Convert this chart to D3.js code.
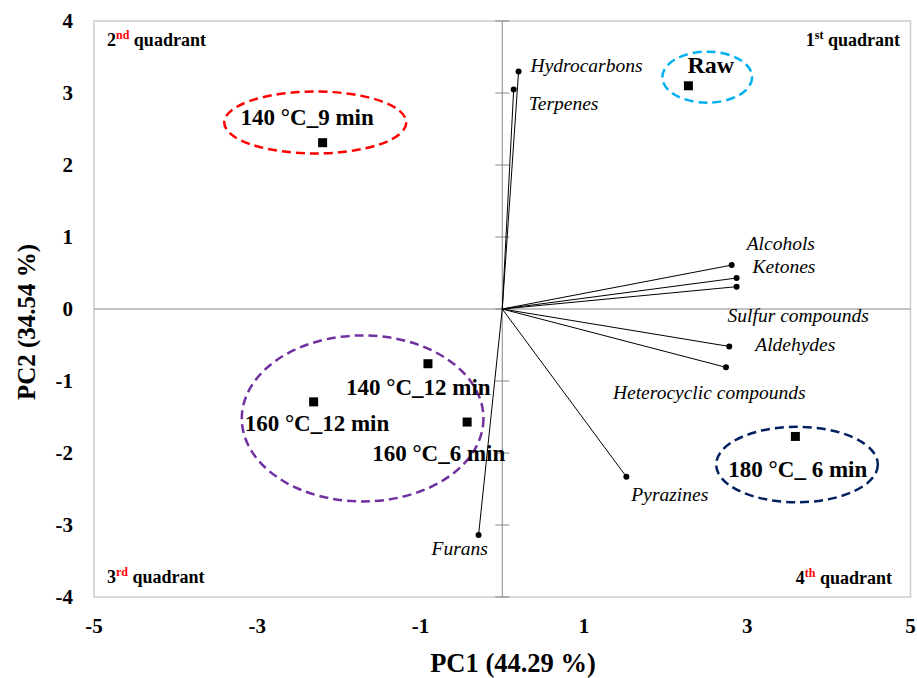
<!DOCTYPE html>
<html>
<head>
<meta charset="utf-8">
<script src="https://cdn.jsdelivr.net/npm/d3@7"></script>
<style>
  body { margin: 0; background: #fff; }
  text { font-family: "Liberation Serif", "Times New Roman", serif; }
</style>
</head>
<body>
<div id="chart"></div>
<script>
// sample scores
const samples = ["Raw", "140 °C_9 min", "140 °C_12 min", "160 °C_12 min", "160 °C_6 min", "180 °C_ 6 min"];
const samplePC1 = [2.28, -2.20, -0.91, -2.31, -0.43, 3.59];
const samplePC2 = [3.10, 2.31, -0.76, -1.29, -1.57, -1.77];

// variable loadings
const variables = ["Hydrocarbons", "Terpenes", "Alcohols", "Ketones", "Sulfur compounds",
                   "Aldehydes", "Heterocyclic compounds", "Pyrazines", "Furans"];
const loadPC1 = [0.20, 0.14, 2.81, 2.87, 2.87, 2.78, 2.74, 1.52, -0.29];
const loadPC2 = [3.30, 3.05, 0.61, 0.43, 0.31, -0.52, -0.81, -2.33, -3.14];

// group ellipses (data units)
const groupCx = [2.51, -2.29, -1.71, 3.61];
const groupCy = [3.22, 2.59, -1.52, -2.16];
const groupRx = [0.55, 1.115, 1.48, 0.99];
const groupRy = [0.354, 0.43, 1.153, 0.524];
const groupColors = ["#00B0F0", "#FF0000", "#7030A0", "#002060"];

const xTicks = [-5, -3, -1, 1, 3, 5];
const yTicks = [-4, -3, -2, -1, 0, 1, 2, 3, 4];

// label offsets in px (left / baseline)
const sampleLabelOffset = [[-1, -13], [-82, -18], [-82, 31], [-69, 29], [-95, 39], [-67, 41]];
const varLabelOffset = [[12, 1], [15, 21], [15, -15], [16, -5], [-9, 35], [26, 5], [-113, 32], [5, 24], [-47, 20]];

const width = 917, height = 678;
const svg = d3.select("#chart").append("svg")
    .attr("width", width)
    .attr("height", height);

const x = d3.scaleLinear().domain([-5, 5]).range([94, 910.5]);
const y = d3.scaleLinear().domain([-4, 4]).range([597, 21]);

// plot frame
svg.append("rect")
    .attr("x", x(-5)).attr("y", y(4))
    .attr("width", x(5) - x(-5)).attr("height", y(-4) - y(4))
    .attr("fill", "none").attr("stroke", "#CCCCCC").attr("stroke-width", 1.5);

// zero lines
svg.append("line")
    .attr("x1", x(-5)).attr("x2", x(5)).attr("y1", y(0)).attr("y2", y(0))
    .attr("stroke", "#868686").attr("stroke-width", 1);
svg.append("line")
    .attr("x1", x(0)).attr("x2", x(0)).attr("y1", y(4)).attr("y2", y(-4))
    .attr("stroke", "#868686").attr("stroke-width", 1);

// tick marks crossing the vertical zero line
svg.append("g").selectAll("line")
    .data(yTicks)
    .enter().append("line")
    .attr("x1", x(0) - 7).attr("x2", x(0) + 7)
    .attr("y1", d => y(d)).attr("y2", d => y(d))
    .attr("stroke", "#868686").attr("stroke-width", 1);

// tick labels
svg.append("g").selectAll("text")
    .data(yTicks)
    .enter().append("text")
    .attr("x", 73).attr("y", d => y(d) + 7)
    .attr("text-anchor", "end")
    .attr("font-size", 21).attr("font-weight", "bold")
    .text(d => d);

svg.append("g").selectAll("text")
    .data(xTicks)
    .enter().append("text")
    .attr("x", d => x(d)).attr("y", 633)
    .attr("text-anchor", "middle")
    .attr("font-size", 21).attr("font-weight", "bold")
    .text(d => d);

// axis titles
svg.append("text")
    .attr("x", 513).attr("y", 672)
    .attr("text-anchor", "middle")
    .attr("font-size", 26.5).attr("font-weight", "bold")
    .text("PC1 (44.29 %)");
svg.append("text")
    .attr("transform", "translate(35,322) rotate(-90)")
    .attr("text-anchor", "middle")
    .attr("font-size", 25).attr("font-weight", "bold")
    .text("PC2 (34.54 %)");

// quadrant labels
const quads = [
    {num: "1", sup: "st", x: 900, y: 46, anchor: "end"},
    {num: "2", sup: "nd", x: 107, y: 46, anchor: "start"},
    {num: "3", sup: "rd", x: 107, y: 583, anchor: "start"},
    {num: "4", sup: "th", x: 892, y: 584, anchor: "end"}
];
quads.forEach(q => {
    const t = svg.append("text")
        .attr("x", q.x).attr("y", q.y)
        .attr("text-anchor", q.anchor)
        .attr("font-size", 18).attr("font-weight", "bold");
    t.append("tspan").text(q.num);
    t.append("tspan").attr("font-size", 12).attr("dy", -7)
        .attr("fill", q.num === "1" ? "#000" : "#FF0000").text(q.sup);
    t.append("tspan").attr("dy", 7).text(" quadrant");
});

// ellipses
svg.append("g").selectAll("ellipse")
    .data(groupCx)
    .enter().append("ellipse")
    .attr("cx", d => x(d))
    .attr("cy", (d, i) => y(groupCy[i]))
    .attr("rx", (d, i) => x(groupRx[i]) - x(0))
    .attr("ry", (d, i) => y(0) - y(groupRy[i]))
    .attr("fill", "none")
    .attr("stroke", (d, i) => groupColors[i])
    .attr("stroke-width", 2.5)
    .attr("stroke-dasharray", "9,5");

// loading vectors
const vec = svg.append("g");
vec.selectAll("line")
    .data(variables)
    .enter().append("line")
    .attr("x1", x(0)).attr("y1", y(0))
    .attr("x2", (d, i) => x(loadPC1[i]))
    .attr("y2", (d, i) => y(loadPC2[i]))
    .attr("stroke", "#000").attr("stroke-width", 1);
vec.selectAll("circle")
    .data(variables)
    .enter().append("circle")
    .attr("cx", (d, i) => x(loadPC1[i]))
    .attr("cy", (d, i) => y(loadPC2[i]))
    .attr("r", 3).attr("fill", "#000");
vec.selectAll("text")
    .data(variables)
    .enter().append("text")
    .attr("x", (d, i) => x(loadPC1[i]) + varLabelOffset[i][0])
    .attr("y", (d, i) => y(loadPC2[i]) + varLabelOffset[i][1])
    .attr("font-size", 19.5).attr("font-style", "italic")
    .text(d => d);

// sample points
const pts = svg.append("g");
pts.selectAll("rect")
    .data(samples)
    .enter().append("rect")
    .attr("x", (d, i) => x(samplePC1[i]) - 4.5)
    .attr("y", (d, i) => y(samplePC2[i]) - 4.5)
    .attr("width", 9).attr("height", 9)
    .attr("fill", "#000");
pts.selectAll("text")
    .data(samples)
    .enter().append("text")
    .attr("x", (d, i) => x(samplePC1[i]) + sampleLabelOffset[i][0])
    .attr("y", (d, i) => y(samplePC2[i]) + sampleLabelOffset[i][1])
    .attr("font-size", (d, i) => i === 0 ? 24 : 23)
    .attr("font-weight", "bold")
    .text(d => d);
</script>
</body>
</html>
